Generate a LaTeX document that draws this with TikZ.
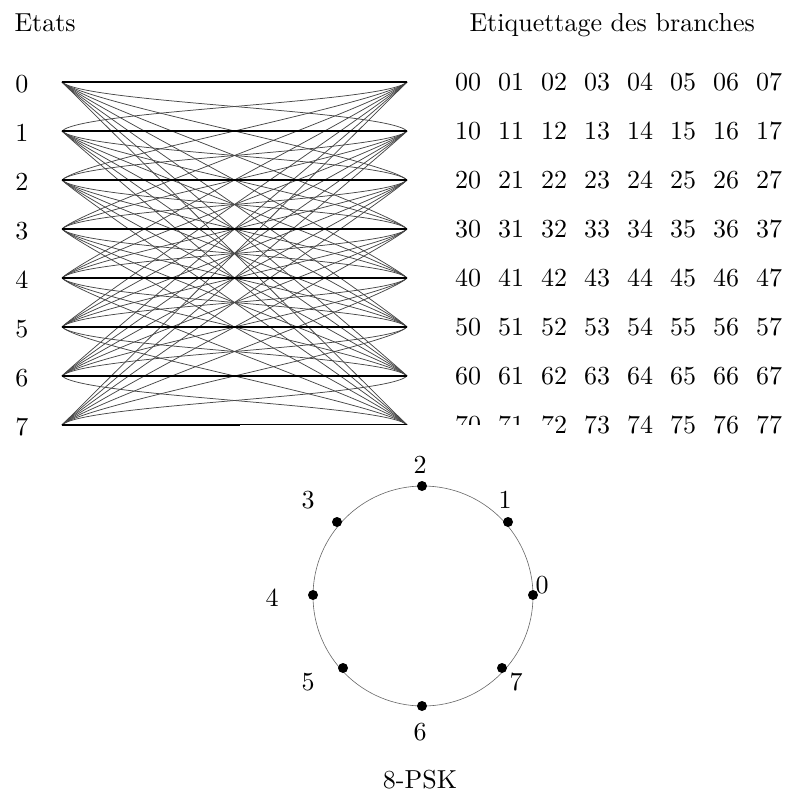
\documentclass[tikz,border=0pt]{standalone}
\begin{document}
\begin{tikzpicture}[x=1pt,y=-1pt,
  txt/.style={inner sep=0pt, font=\fontsize{10}{12}\selectfont, scale=2.6},
  branch/.style={draw=black!72, line width=0.75pt},
  stay/.style={draw=black, line width=1.8pt},
  dot/.style={circle, fill=black, inner sep=0pt, minimum size=10pt},
  ring/.style={draw=black!60, line width=0.6pt}]
\useasboundingbox (0,0) rectangle (793,794);
\node[txt, anchor=base west] (etats) at (14,32) {Etats};
\node[txt, anchor=base west] (etiq) at (469,32) {Etiquettage des branches};
\foreach \i in {0,...,7} {
  \pgfmathsetmacro\yy{82+49*\i}
  \coordinate (L\i) at (62,\yy);
  \coordinate (R\i) at (407,\yy);
  \node[txt] (s\i) at (22,\yy+2) {\i};
  \foreach \j in {0,...,7} {
    \node[txt] (b\i\j) at ({468+43*\j},\yy) {\i\j};
  }
}
\foreach \i in {0,...,7} {
  \foreach \j in {0,...,7} {
    \ifnum\i=\j\relax\else
      \pgfmathsetmacro\s{21*sign(\j-\i)}
      \draw[branch] (L\i) .. controls +(21,\s) and +(-21,-\s) .. (R\j);
    \fi
  }
}
\foreach \i in {0,...,7} \draw[stay] (L\i) -- (R\i);
% clipped strip of the original
\fill[white] (240,424.5) rectangle (556,440);
% 8-PSK constellation
\coordinate (C) at (423,596);
\draw[ring] (C) circle[radius=110];
\foreach \k/\px/\py in {0/533/595,1/508/522,2/422/486,3/337/522,4/313/595,5/343/668,6/422/706,7/502/668}
  \node[dot] (p\k) at (\px,\py) {};
\foreach \k/\px/\py in {0/542/585,1/505/500,2/420/465,3/308/500,4/272/598,5/308/682,6/420/732,7/516/682}
  \node[txt] (q\k) at (\px,\py) {\k};
\node[txt] (psk) at (420,780) {8-PSK};
\end{tikzpicture}
\end{document}
